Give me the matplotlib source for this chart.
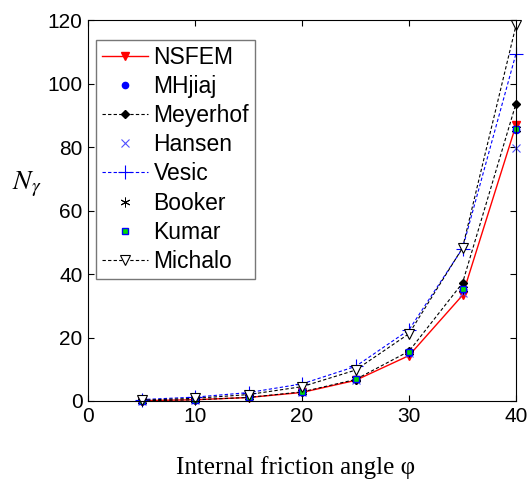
import matplotlib
matplotlib.use("Agg")
import matplotlib.pyplot as plt

phi = [5, 10, 15, 20, 25, 30, 35, 40]
nsfem = [0.1, 0.4, 1.1, 2.7, 6.5, 14.3, 33.3, 86.9]
mhjiaj = [0.1, 0.43, 1.18, 2.85, 6.9, 15.2, 35.0, 85.3]
meyerhof = [0.07, 0.37, 1.13, 2.87, 6.77, 15.67, 37.15, 93.69]
hansen = [0.07, 0.39, 1.18, 2.95, 6.76, 15.07, 33.92, 79.54]
vesic = [0.45, 1.22, 2.65, 5.39, 10.88, 22.40, 48.03, 109.41]
booker = [0.1, 0.43, 1.2, 2.9, 6.9, 15.3, 35.2, 85.6]
kumar = [0.1, 0.43, 1.2, 2.9, 6.9, 15.4, 35.2, 85.6]
michalo = [0.26, 0.84, 2.03, 4.51, 9.73, 21.2, 48.2, 118.3]

xticks = [0, 10, 20, 30, 40]
yticks = [0, 20, 40, 60, 80, 100, 120]

plt.rcParams['font.family'] = ['Liberation Sans', 'DejaVu Sans']
plt.rcParams['mathtext.fontset'] = 'stix'
fig = plt.figure(figsize=(5.28, 4.82), dpi=100)
ax = fig.add_axes([88/528, 81/482, 428/528, 381/482])

kw = dict(clip_on=False)
ax.plot(phi, nsfem, '-', color='red', marker='v', mfc='red', mec='red', ms=6, lw=1, label='NSFEM', **kw)
ax.plot(phi, mhjiaj, 'o', color='blue', ms=4.5, label='MHjiaj', **kw)
ax.plot(phi, meyerhof, '--', color='black', marker='D', ms=4.5, lw=0.8, dashes=(3, 2), label='Meyerhof', **kw)
ax.plot(phi, hansen, 'x', color='#5050ff', ms=6, mew=0.8, label='Hansen', **kw)
ax.plot(phi, vesic, '--', color='blue', marker='+', ms=10, mew=0.8, lw=0.8, dashes=(3, 2), label='Vesic', **kw)
ax.plot(phi, booker, color='black', ls='none', ms=7, mew=0.7, marker=(6, 2, 0), label='Booker', **kw)
ax.plot(phi, kumar, 's', mfc='#00dd00', mec='blue', ms=4.5, mew=1, label='Kumar', **kw)
ax.plot(phi, michalo, '--', color='black', marker='v', mfc='white', mec='black', ms=7, mew=0.8, lw=0.8, dashes=(3, 2), label='Michalo', **kw)

ax.set_xlim(0, 40)
ax.set_ylim(0, 120)
ax.set_xticks(xticks)
ax.set_yticks(yticks)
ax.tick_params(direction='in', top=True, right=True, labelsize=15, length=4, pad=4)
for s in ax.spines.values():
    s.set_linewidth(0.8)

ax.set_xlabel('Internal friction angle φ', family=['Liberation Serif', 'DejaVu Serif'], fontsize=18)
ax.xaxis.set_label_coords((296 - 88) / 428, -0.145)
ax.set_ylabel(r'$N_\gamma$', fontsize=20, rotation=0)
ax.yaxis.set_label_coords((27 - 88) / 428, 0.53)

leg = ax.legend(loc='upper left', bbox_to_anchor=(0.019, 0.9475), fontsize=16.5, frameon=True,
                fancybox=False, edgecolor='#555555', handlelength=2.0, handletextpad=0.25,
                labelspacing=0.27, borderpad=0.25, borderaxespad=0)
leg.get_frame().set_linewidth(1)

fig.savefig('out.png', dpi=100)
